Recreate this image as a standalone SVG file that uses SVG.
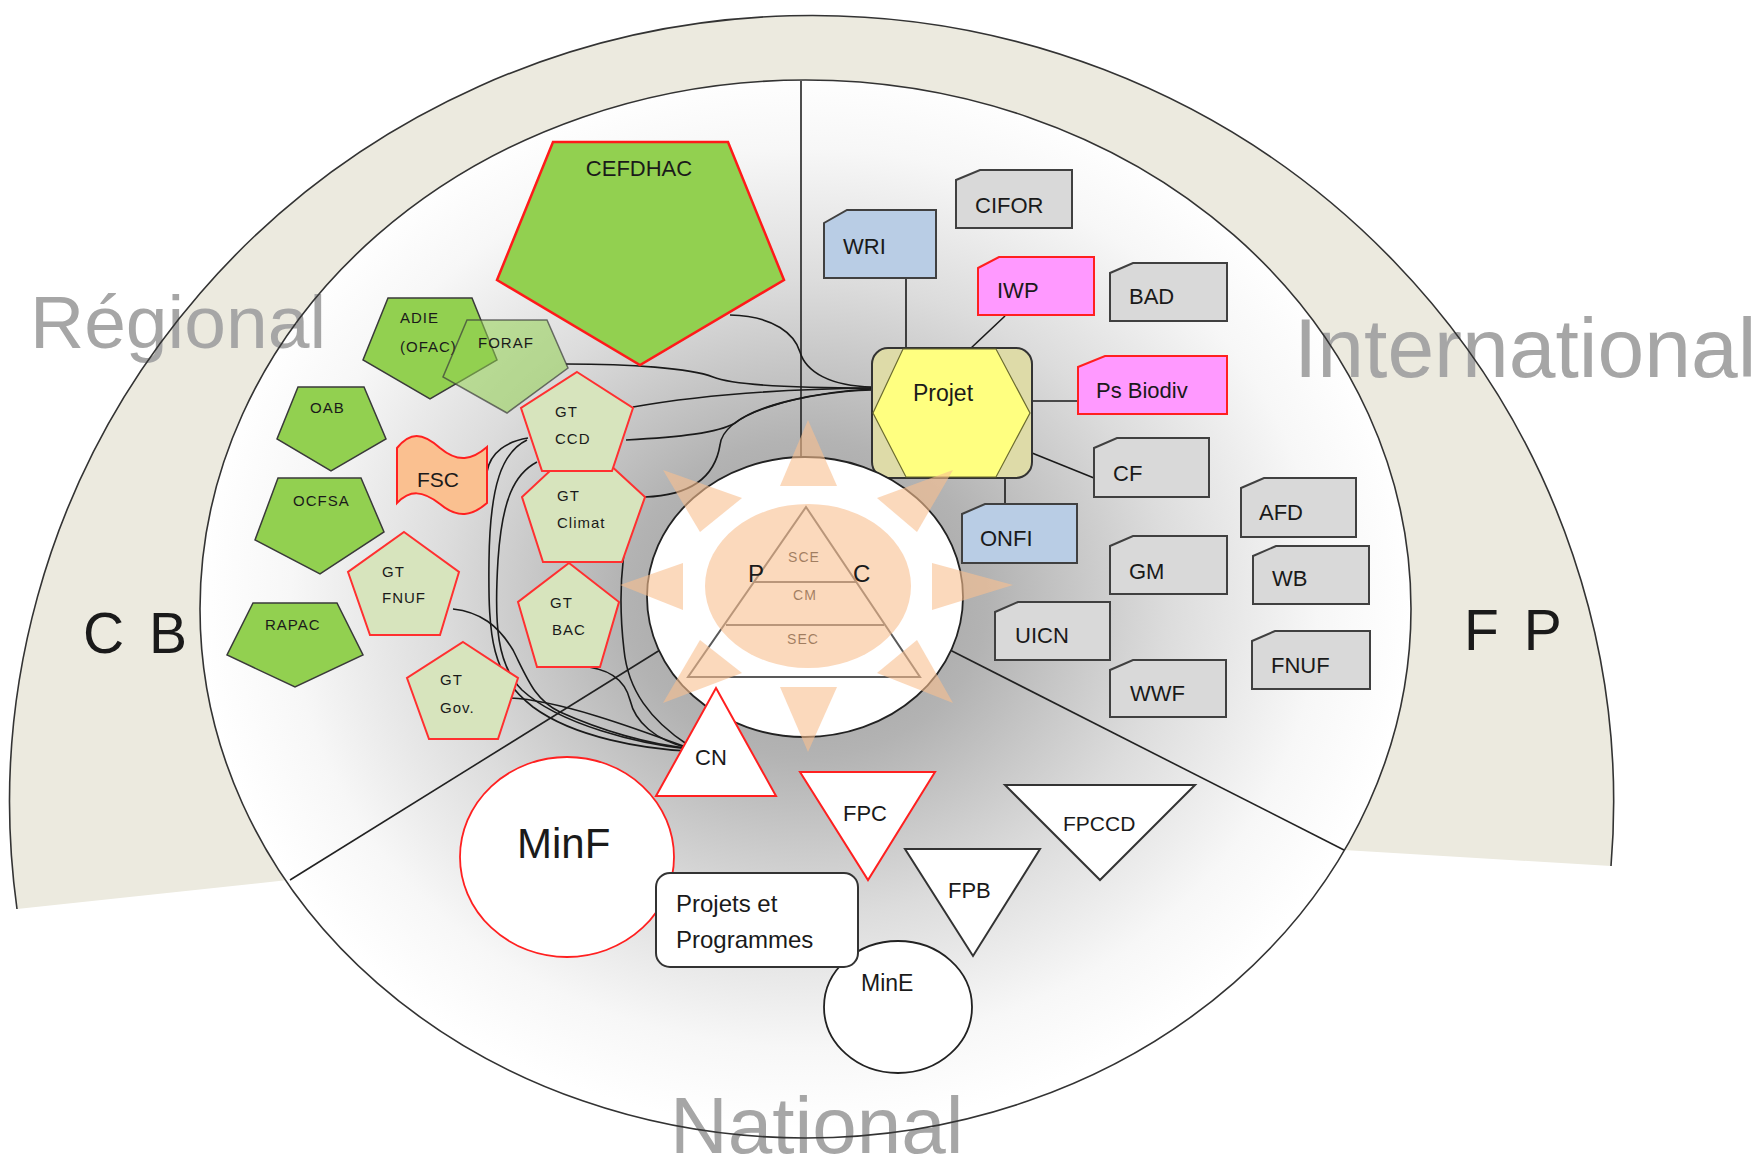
<svg xmlns="http://www.w3.org/2000/svg" width="1764" height="1168" viewBox="0 0 1764 1168">
<defs>
<radialGradient id="gbg" cx="0.5" cy="0.49" r="0.5">
<stop offset="0" stop-color="#9c9c9c"/>
<stop offset="0.3" stop-color="#b3b3b3"/>
<stop offset="0.6" stop-color="#dcdcdc"/>
<stop offset="0.85" stop-color="#f7f7f7"/>
<stop offset="1" stop-color="#ffffff"/>
</radialGradient>
<style>
text{font-family:"Liberation Sans",Arial,sans-serif;fill:#1a1a1a}
.region{fill:#a6a6a6}
.arc{fill:none;stroke:#333;stroke-width:1.6}
.div{stroke:#222;stroke-width:1.6;fill:none}
.con{fill:none;stroke:#1a1a1a;stroke-width:1.6}
.pg{fill:#92d050;stroke:#3a3a3a;stroke-width:1.5}
.gt{fill:#d7e4bd;stroke:#ff3030;stroke-width:2}
.sm{font-size:15px;letter-spacing:1px}
.box{fill:#d9d9d9;stroke:#404040;stroke-width:2}
.blue{fill:#b9cde5}
.pink{fill:#ff99ff;stroke:#ff2020}
.bl{font-size:22px}
.tri{fill:#fff;stroke:#333;stroke-width:2}
.red{stroke:#ff2020}
</style>
</defs>

<g id="background">
<path d="M17,909 A802,787 0 1 1 1611,866 L1344,850 L805,700 L288,880 Z" fill="#eceadf"/>
<ellipse cx="805.5" cy="609" rx="605.5" ry="529" fill="url(#gbg)"/>
</g>

<g id="region-labels">
<text class="region" x="30" y="348" font-size="75">Régional</text>
<text class="region" x="1294" y="377" font-size="84">International</text>
<text class="region" x="670" y="1153" font-size="80">National</text>
<text x="83" y="653" font-size="57" letter-spacing="4.5" fill="#000">C B</text>
<text x="1464" y="650" font-size="57" letter-spacing="4.5" fill="#000">F P</text>
</g>

<g id="arcs">
<path class="arc" d="M17,909 A802,787 0 1 1 1611,866"/>
<ellipse class="arc" cx="805.5" cy="609" rx="605.5" ry="529"/>
<line class="div" x1="801" y1="81" x2="801" y2="462"/>
<line class="div" x1="290" y1="880" x2="660" y2="650"/>
<line class="div" x1="950" y1="650" x2="1344" y2="850"/>
</g>

<g id="connectors">
<path class="con" d="M730,315 C775,316 795,335 800,352 C806,372 830,386 872,387"/>
<path class="con" d="M566,364 C630,364 690,368 713,377 C735,386 800,388 872,388"/>
<path class="con" d="M633,407 C700,395 790,389 872,388"/>
<path class="con" d="M626,440 C680,437 718,433 735,423 C758,405 815,392 872,389"/>
<path class="con" d="M645,497 C700,495 716,470 720,445 C724,410 810,392 872,390"/>
<path class="con" d="M487,472 C490,452 508,441 528,438"/>
<path class="con" d="M537,462 C514,474 502,500 498,560 C494,625 497,665 522,690 C560,725 640,744 688,749"/>
<path class="con" d="M527,440 C502,452 490,485 489,560 C488,640 492,675 533,707 C575,738 645,749 688,751"/>
<path class="con" d="M453,609 C480,612 498,625 513,650 C528,680 535,700 560,712 C600,730 650,745 688,748"/>
<path class="con" d="M510,698 C560,700 640,730 686,747"/>
<path class="con" d="M580,666 C610,668 625,680 630,700 C635,722 655,740 688,748"/>
<path class="con" d="M645,497 C622,520 617,590 624,650 C628,690 650,720 688,745"/>
<line class="con" x1="906" y1="278" x2="906" y2="348"/>
<line class="con" x1="1005" y1="316" x2="970" y2="349"/>
<line class="con" x1="1032" y1="401" x2="1078" y2="401"/>
<line class="con" x1="1032" y1="453" x2="1094" y2="478"/>
<line class="con" x1="1005" y1="478" x2="1005" y2="504"/>
</g>

<g id="CEFDHAC">
<polygon points="553,142 728,142 784,280 640,365 497,280" fill="#92d050" stroke="#ff1a1a" stroke-width="2.5"/>
<text x="639" y="176" font-size="22" text-anchor="middle">CEFDHAC</text>
</g>
<g id="ADIE">
<polygon class="pg" points="388,298 472,298 497,360 430,399 363,360"/>
<text class="sm" x="400" y="323">ADIE</text>
<text class="sm" x="400" y="352">(OFAC)</text>
</g>
<g id="FORAF">
<polygon points="467,320 547,320 568,368 507,413 443,377" fill="#92d050" fill-opacity="0.55" stroke="#3a3a3a" stroke-opacity="0.7" stroke-width="1.5"/>
<text class="sm" x="478" y="348">FORAF</text>
</g>
<g id="OAB">
<polygon class="pg" points="298,387 364,387 386,439 331,471 277,439"/>
<text class="sm" x="310" y="413">OAB</text>
</g>
<g id="OCFSA">
<polygon class="pg" points="278,478 361,478 384,532 320,574 255,540"/>
<text class="sm" x="293" y="506">OCFSA</text>
</g>
<g id="RAPAC">
<polygon class="pg" points="253,603 337,603 363,655 295,687 227,655"/>
<text class="sm" x="265" y="630">RAPAC</text>
</g>
<g id="FSC">
<path d="M397,448 C410,432 422,432 440,448 C458,463 472,460 487,447 L487,503 C472,516 458,519 440,504 C422,490 410,490 397,503 Z" fill="#fac090" stroke="#ff2020" stroke-width="2"/>
<text x="417" y="487" font-size="21">FSC</text>
</g>
<g id="GT-FNUF">
<polygon class="gt" points="404,532 459,572 440,635 370,635 348,572"/>
<text class="sm" x="382" y="577">GT</text>
<text class="sm" x="382" y="603">FNUF</text>
</g>
<g id="GT-Climat">
<polygon class="gt" points="583,440 645,497 622,562 543,562 522,497"/>
<text class="sm" x="557" y="501">GT</text>
<text class="sm" x="557" y="528">Climat</text>
</g>
<g id="GT-CCD">
<polygon class="gt" points="577,372 633,408 612,471 542,471 521,408"/>
<text class="sm" x="555" y="417">GT</text>
<text class="sm" x="555" y="444">CCD</text>
</g>
<g id="GT-BAC">
<polygon class="gt" points="569,563 619,602 600,667 537,667 518,602"/>
<text class="sm" x="550" y="608">GT</text>
<text class="sm" x="552" y="635">BAC</text>
</g>
<g id="GT-Gov">
<polygon class="gt" points="463,642 518,678 498,739 429,739 407,678"/>
<text class="sm" x="440" y="685">GT</text>
<text class="sm" x="440" y="713">Gov.</text>
</g>

<g id="WRI">
<path class="box blue" d="M824,223 L847,210 L936,210 L936,278 L824,278 Z" stroke="#ff2020"/>
<text class="bl" x="843" y="254">WRI</text>
</g>
<g id="CIFOR">
<path class="box" d="M956,180 L980,170 L1072,170 L1072,228 L956,228 Z"/>
<text class="bl" x="975" y="213">CIFOR</text>
</g>
<g id="IWP">
<path class="box pink" d="M978,268 L999,257 L1094,257 L1094,315 L978,315 Z"/>
<text class="bl" x="997" y="298">IWP</text>
</g>
<g id="BAD">
<path class="box" d="M1110,273 L1133,263 L1227,263 L1227,321 L1110,321 Z"/>
<text class="bl" x="1129" y="304">BAD</text>
</g>
<g id="Ps-Biodiv">
<path class="box pink" d="M1078,367 L1105,356 L1227,356 L1227,414 L1078,414 Z"/>
<text class="bl" x="1096" y="398">Ps Biodiv</text>
</g>
<g id="CF">
<path class="box" d="M1094,448 L1117,438 L1209,438 L1209,497 L1094,497 Z"/>
<text class="bl" x="1113" y="481">CF</text>
</g>
<g id="AFD">
<path class="box" d="M1241,488 L1264,478 L1356,478 L1356,537 L1241,537 Z"/>
<text class="bl" x="1259" y="520">AFD</text>
</g>
<g id="ONFI">
<path class="box blue" d="M962,514 L985,504 L1077,504 L1077,563 L962,563 Z"/>
<text class="bl" x="980" y="546">ONFI</text>
</g>
<g id="GM">
<path class="box" d="M1110,546 L1133,536 L1227,536 L1227,594 L1110,594 Z"/>
<text class="bl" x="1129" y="579">GM</text>
</g>
<g id="WB">
<path class="box" d="M1253,556 L1276,546 L1369,546 L1369,604 L1253,604 Z"/>
<text class="bl" x="1272" y="586">WB</text>
</g>
<g id="UICN">
<path class="box" d="M995,612 L1018,602 L1110,602 L1110,660 L995,660 Z"/>
<text class="bl" x="1015" y="643">UICN</text>
</g>
<g id="FNUF">
<path class="box" d="M1252,641 L1275,631 L1370,631 L1370,689 L1252,689 Z"/>
<text class="bl" x="1271" y="673">FNUF</text>
</g>
<g id="WWF">
<path class="box" d="M1110,670 L1133,660 L1226,660 L1226,717 L1110,717 Z"/>
<text class="bl" x="1130" y="701">WWF</text>
</g>

<g id="Projet">
<rect x="872" y="348" width="160" height="130" rx="16" fill="#dedba8" stroke="#333" stroke-width="2"/>
<polygon points="873,413 903,349 996,349 1030,413 996,477 906,477" fill="#ffff80" stroke="#6b6b30" stroke-width="1.2"/>
<text x="943" y="401" font-size="23" text-anchor="middle" fill="#595926">Projet</text>
</g>

<g id="centre">
<ellipse cx="805" cy="597" rx="158" ry="140" fill="#fff" stroke="#222" stroke-width="1.8"/>
<polygon points="806,507 920,677 688,677" fill="none" stroke="#595959" stroke-width="2"/>
<line x1="754" y1="582" x2="856" y2="582" stroke="#595959" stroke-width="2"/>
<line x1="726" y1="625" x2="884" y2="625" stroke="#595959" stroke-width="2"/>
<text x="804" y="562" font-size="14" letter-spacing="1" text-anchor="middle" fill="#7a7a7a">SCE</text>
<text x="805" y="600" font-size="14" letter-spacing="1" text-anchor="middle" fill="#7a7a7a">CM</text>
<text x="803" y="644" font-size="14" letter-spacing="1" text-anchor="middle" fill="#7a7a7a">SEC</text>
<g id="sun" fill="#fac090" opacity="0.6">
<ellipse cx="808" cy="586" rx="103" ry="82"/>
<polygon points="808,420 837,486 780,486"/>
<polygon points="808,752 837,687 780,687"/>
<polygon points="620,585 683,563 683,610"/>
<polygon points="1013,585 932,563 932,610"/>
<polygon points="663,470 742,498 700,532"/>
<polygon points="953,470 877,498 917,532"/>
<polygon points="663,703 700,640 742,673"/>
<polygon points="953,703 917,640 877,673"/>
</g>
<text x="748" y="582" font-size="24" fill="#e46c0a">P</text>
<text x="853" y="582" font-size="24" fill="#e46c0a">C</text>
</g>

<g id="CN">
<polygon class="tri red" points="716,688 776,796 656,796"/>
<text x="695" y="765" font-size="22">CN</text>
</g>
<g id="FPC">
<polygon class="tri red" points="800,772 935,772 868,880"/>
<text x="843" y="821" font-size="22">FPC</text>
</g>
<g id="FPB">
<polygon class="tri" points="905,849 1040,849 973,956"/>
<text x="948" y="898" font-size="22">FPB</text>
</g>
<g id="FPCCD">
<polygon class="tri" points="1005,785 1195,785 1100,880"/>
<text x="1063" y="831" font-size="21">FPCCD</text>
</g>
<g id="MinF">
<ellipse cx="567" cy="857" rx="107" ry="100" fill="#fff" stroke="#ff2020" stroke-width="1.8"/>
<text x="517" y="858" font-size="42" fill="#000">MinF</text>
</g>
<g id="MinE">
<ellipse cx="898" cy="1007" rx="74" ry="66" fill="#fff" stroke="#222" stroke-width="1.8"/>
<text x="861" y="991" font-size="23">MinE</text>
</g>
<g id="Projets-Programmes">
<rect x="656" y="873" width="202" height="94" rx="14" fill="#fff" stroke="#333" stroke-width="2"/>
<text x="676" y="912" font-size="24">Projets et</text>
<text x="676" y="948" font-size="24">Programmes</text>
</g>
</svg>
